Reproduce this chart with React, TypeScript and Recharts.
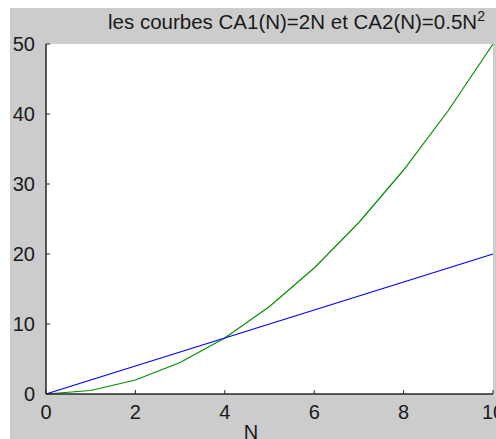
import React from 'react';
import { LineChart, Line, XAxis, YAxis, CartesianGrid } from 'recharts';

const nValues = [0, 1, 2, 3, 4, 5, 6, 7, 8, 9, 10];
const ca1Values = [0, 2, 4, 6, 8, 10, 12, 14, 16, 18, 20];
const ca2Values = [0, 0.5, 2, 4.5, 8, 12.5, 18, 24.5, 32, 40.5, 50];
const xTicks = [0, 2, 4, 6, 8, 10];
const yTicks = [0, 10, 20, 30, 40, 50];
const titleMain = 'les courbes CA1(N)=2N et CA2(N)=0.5N';
const titleSup = '2';
const xLabel = 'N';

const data = nValues.map((n, i) => ({ n, ca1: ca1Values[i], ca2: ca2Values[i] }));

const AXIS = '#262626';
const TICK_FONT = "'Liberation Sans Narrow', 'Liberation Sans', Arial, sans-serif";
const TITLE_FONT = "'Liberation Sans', Arial, sans-serif";
const TL = 4;

const BottomTick = (props: any) => {
  const { x, y, payload } = props;
  return (
    <g>
      <line x1={x} y1={y} x2={x} y2={y - TL} stroke={AXIS} strokeWidth={1} />
      <text x={x} y={y + 25} textAnchor="middle" fontFamily={TICK_FONT} fontSize={20} fill="#1a1a1a">
        {payload.value}
      </text>
    </g>
  );
};

const LeftTick = (props: any) => {
  const { x, y, payload } = props;
  return (
    <g>
      <line x1={x} y1={y} x2={x + TL} y2={y} stroke={AXIS} strokeWidth={1} />
      <text x={x - 11} y={y + 7} textAnchor="end" fontFamily={TICK_FONT} fontSize={20} fill="#1a1a1a">
        {payload.value}
      </text>
    </g>
  );
};

const TopTick = (props: any) => {
  const { x, y } = props;
  return <line x1={x} y1={y} x2={x} y2={y + TL} stroke={AXIS} strokeWidth={1} />;
};

const RightTick = (props: any) => {
  const { x, y } = props;
  return <line x1={x} y1={y} x2={x - TL} y2={y} stroke={AXIS} strokeWidth={1} />;
};

const XLabel = (props: any) => {
  return (
    <text x={251} y={439} textAnchor="middle" fontFamily={TICK_FONT} fontSize={20} fill="#1a1a1a">
      {xLabel}
    </text>
  );
};

export default function App() {
  return (
    <div style={{ position: 'absolute', left: 0, top: 0, width: 496, height: 439, background: '#ffffff', overflow: 'hidden' }}>
      <div style={{ position: 'absolute', left: 10, top: 8, right: 0, bottom: 0, background: '#cccccc' }} />
      <div style={{ position: 'absolute', left: 0, top: 0 }}>
        <LineChart width={496} height={439} data={data} margin={{ top: 44, right: 3, bottom: 0, left: 0 }}>
          <CartesianGrid fill="#ffffff" horizontal={false} vertical={false} stroke="none" xAxisId="bottom" yAxisId="left" />
          <XAxis
            xAxisId="bottom"
            dataKey="n"
            type="number"
            domain={[0, 10]}
            ticks={xTicks}
            height={45}
            axisLine={{ stroke: AXIS, strokeWidth: 1.5 }}
            tickLine={false}
            tickSize={0}
            tickMargin={0}
            tick={<BottomTick />}
            interval={0}
            label={<XLabel />}
          />
          <XAxis
            xAxisId="top"
            orientation="top"
            dataKey="n"
            type="number"
            domain={[0, 10]}
            ticks={xTicks}
            height={0}
            axisLine={{ stroke: AXIS, strokeWidth: 1 }}
            tickLine={false}
            tickSize={0}
            tickMargin={0}
            tick={<TopTick />}
            interval={0}
          />
          <YAxis
            yAxisId="left"
            type="number"
            domain={[0, 50]}
            ticks={yTicks}
            width={46}
            axisLine={{ stroke: AXIS, strokeWidth: 1.5 }}
            tickLine={false}
            tickSize={0}
            tickMargin={0}
            tick={<LeftTick />}
            interval={0}
          />
          <YAxis
            yAxisId="right"
            orientation="right"
            type="number"
            domain={[0, 50]}
            ticks={yTicks}
            width={0}
            axisLine={{ stroke: AXIS, strokeWidth: 1.5 }}
            tickLine={false}
            tickSize={0}
            tickMargin={0}
            tick={<RightTick />}
            interval={0}
          />
          <Line xAxisId="bottom" yAxisId="left" type="linear" dataKey="ca2" stroke="#009000" strokeWidth={1.2} dot={false} isAnimationActive={false} />
          <Line xAxisId="bottom" yAxisId="left" type="linear" dataKey="ca1" stroke="#0000ff" strokeWidth={1.2} dot={false} isAnimationActive={false} />
        </LineChart>
      </div>
      <svg width={496} height={40} style={{ position: 'absolute', left: 0, top: 0 }}>
        <text x={108} y={29} fontFamily={TITLE_FONT} fontSize={20.5} fill="#1a1a1a">
          {titleMain}
          <tspan dy={-8} fontSize={14}>{titleSup}</tspan>
        </text>
      </svg>
    </div>
  );
}
